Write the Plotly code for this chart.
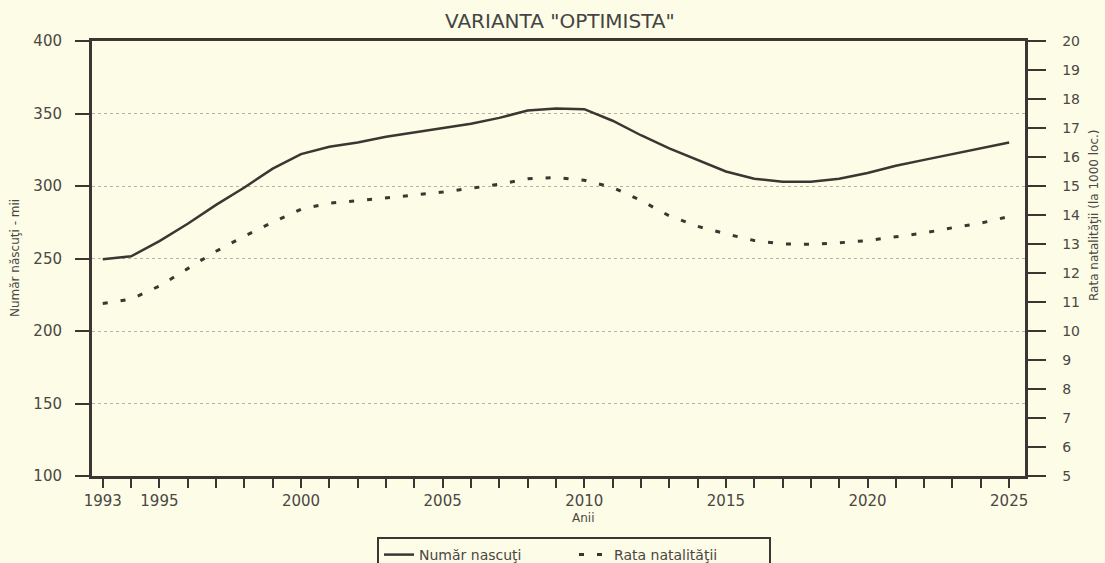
import plotly.graph_objects as go

# ---- data ----
years = list(range(1993, 2026))
nascuti = [249.5, 251.5, 262, 274, 287, 299, 312, 322, 327, 330, 334, 337, 340,
           343, 347, 352, 353.5, 353, 345, 335, 326, 318, 310, 305, 303, 303,
           305, 309, 314, 318, 322, 326, 330]
rata = [10.95, 11.1, 11.55, 12.15, 12.75, 13.27, 13.75, 14.2, 14.41, 14.49, 14.59,
        14.69, 14.79, 14.92, 15.06, 15.25, 15.29, 15.2, 14.95, 14.5, 13.97, 13.61,
        13.35, 13.12, 13.0, 12.99, 13.04, 13.12, 13.24, 13.38, 13.56, 13.72, 13.95]
labelled_years = [1993, 1995, 2000, 2005, 2010, 2015, 2020, 2025]
tick_text = [str(y) if y in labelled_years else "" for y in years]
left_ticks = [100, 150, 200, 250, 300, 350, 400]
right_ticks = list(range(5, 21))

title_text = 'VARIANTA "OPTIMISTA"'
left_title = "Număr născuţi - mii"
right_title = "Rata natalităţii (la 1000 loc.)"
x_title = "Anii"
name_1 = "Număr nascuţi"
name_2 = "Rata natalităţii"

# ---- style ----
W, H = 1105, 563
L, R, T, B = 92, 80, 41, 87
bg = "#fdfce6"
ink = "#3b3631"
txt = "#4a4744"
FONT = "DejaVu Sans"
PAD = "\u00a0\u00a0\u00a0"

def px(x):
    return (x - L) / (W - L - R)

def py(y):
    return (H - B - y) / (H - T - B)

fig = go.Figure()
fig.add_trace(go.Scatter(x=years, y=nascuti, mode="lines", name=name_1,
                         line=dict(color=ink, width=2.5), yaxis="y"))
fig.add_trace(go.Scatter(x=years, y=rata, mode="lines", name=name_2,
                         line=dict(color=ink, width=3, dash="5px,13px"), yaxis="y2"))

fig.update_layout(
    width=W, height=H,
    margin=dict(l=L, r=R, t=T, b=B, autoexpand=False),
    paper_bgcolor=bg, plot_bgcolor=bg,
    font=dict(family=FONT, size=14, color=txt),
    showlegend=True,
    legend=dict(orientation="h", x=px(574), y=py(537), xanchor="center", yanchor="top",
                bordercolor=ink, borderwidth=2, bgcolor=bg,
                font=dict(family=FONT, size=14, color=txt), entrywidth=150),
    xaxis=dict(range=[1992.62, 2025.56], tickvals=years, ticktext=tick_text,
               ticks="outside", ticklen=9, tickwidth=2, tickcolor=ink,
               showline=True, linewidth=3, linecolor=ink, mirror=True,
               showgrid=False, zeroline=False, ticklabelstandoff=0,
               tickfont=dict(size=15, color=txt)),
    yaxis=dict(range=[100, 400], tickvals=left_ticks,
               ticks="outside", ticklen=14, tickwidth=2, tickcolor=ink,
               showline=True, linewidth=3, linecolor=ink, mirror=True,
               showgrid=True, gridcolor="#b5b3a3", griddash="dot", gridwidth=1,
               zeroline=False, ticklabelstandoff=10,
               tickfont=dict(size=15, color=txt)),
    yaxis2=dict(range=[5, 20], tickvals=right_ticks,
                ticktext=[PAD + str(v) for v in right_ticks],
                overlaying="y", side="right",
                ticks="outside", ticklen=18, tickwidth=2, tickcolor=ink,
                showline=True, linewidth=3, linecolor=ink,
                showgrid=False, zeroline=False,
                tickfont=dict(size=14, color=txt)),
    annotations=[
        dict(text=title_text, x=px(560), y=py(21), xref="paper", yref="paper",
             showarrow=False, font=dict(size=20, color="#444"), xanchor="center", yanchor="middle"),
        dict(text=left_title, x=px(15), y=py(258), xref="paper", yref="paper",
             showarrow=False, textangle=-90, font=dict(size=12, color=txt),
             xanchor="center", yanchor="middle"),
        dict(text=right_title, x=px(1094), y=py(215), xref="paper", yref="paper",
             showarrow=False, textangle=-90, font=dict(size=12, color=txt),
             xanchor="center", yanchor="middle"),
        dict(text=x_title, x=px(583), y=py(518), xref="paper", yref="paper",
             showarrow=False, font=dict(size=12, color=txt),
             xanchor="center", yanchor="middle"),
    ],
)

fig.write_html("out.html", config={"displayModeBar": False},
               post_script="document.body.style.margin='0';")
